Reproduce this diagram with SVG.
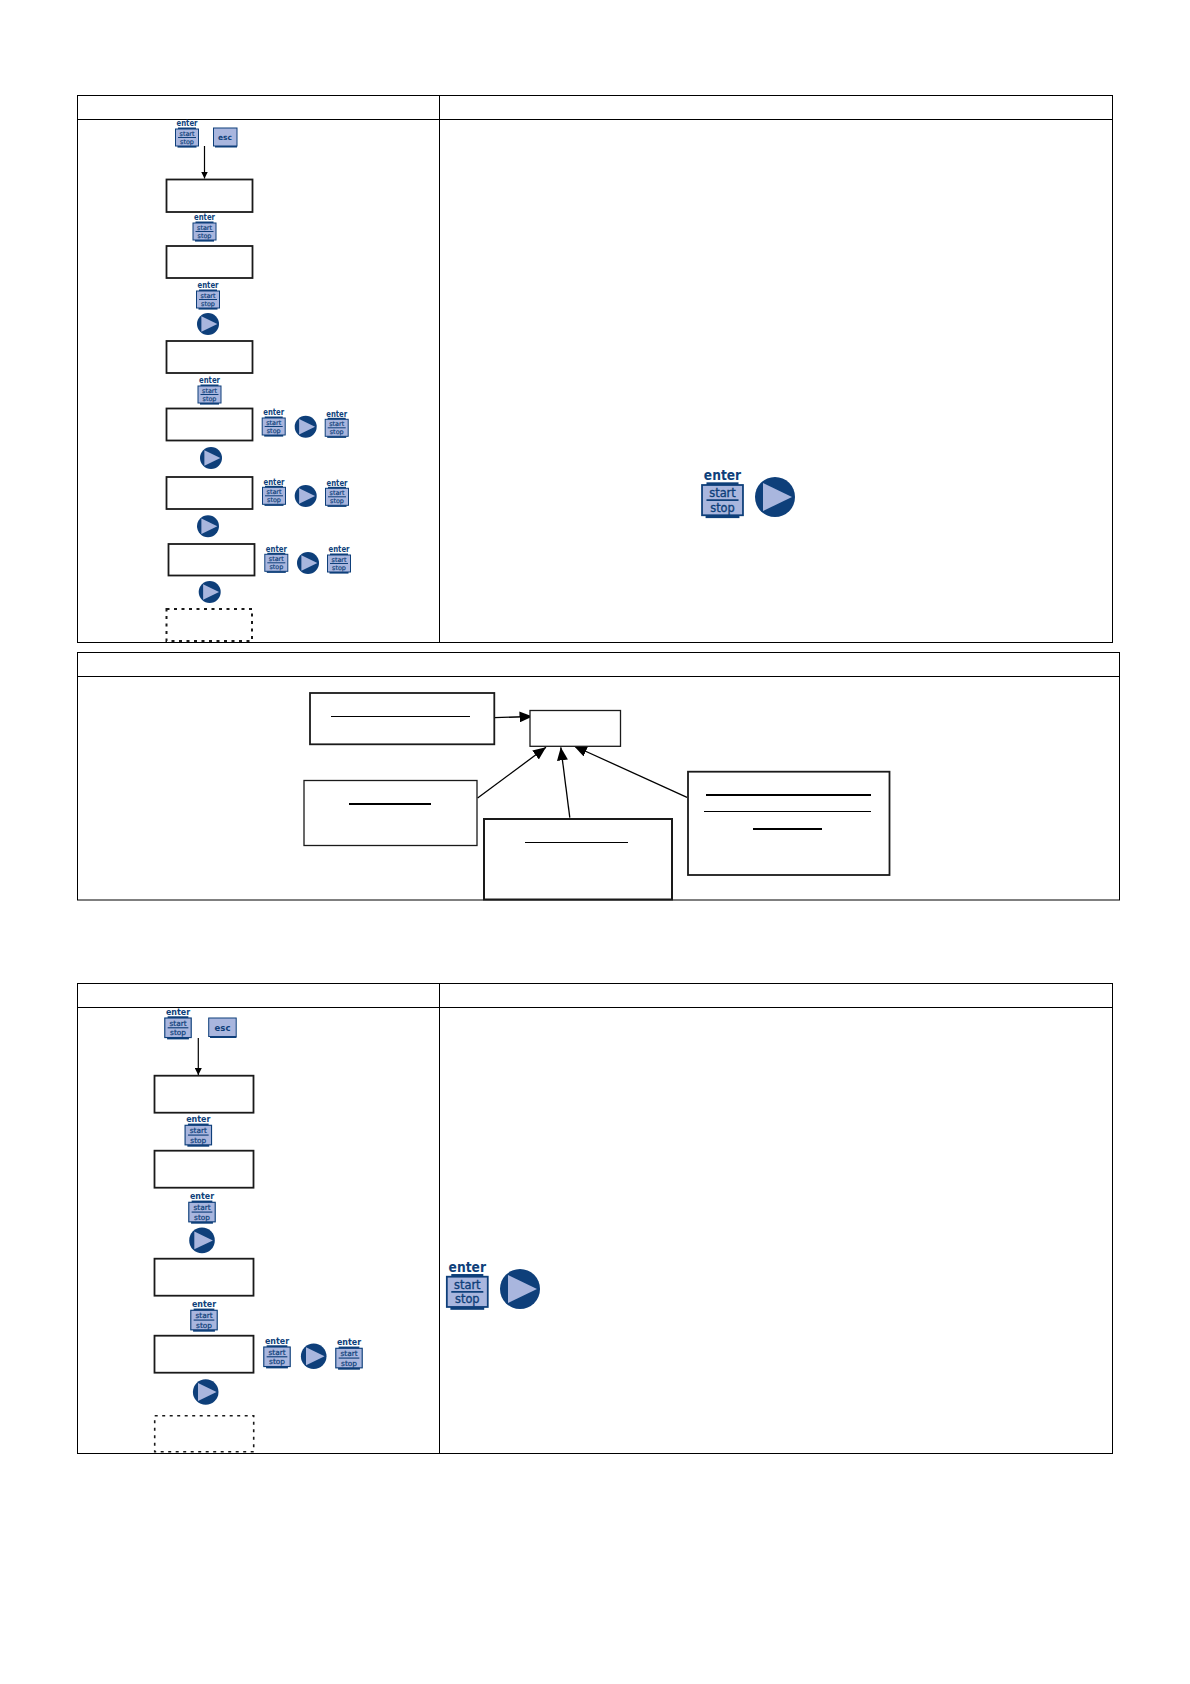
<svg xmlns="http://www.w3.org/2000/svg" width="1190" height="1684" viewBox="0 0 1190 1684">
<defs>
<style>
.grid{fill:none;stroke:#000;stroke-width:1}
.box{fill:#fff;stroke:#1a1a1a;stroke-width:1.8}
.dash{fill:#fff;stroke:#1a1a1a;stroke-width:2;stroke-dasharray:3 4.500}
.ul{stroke:#000;fill:none}
.con{stroke:#000;stroke-width:1.300;fill:none;marker-end:url(#arrow)}
.con2{stroke:#000;stroke-width:1.200;fill:none;marker-end:url(#arrow-small)}
.key{fill:#a9b6de;stroke:#0e3f7a;stroke-width:1}
.band{fill:#0e3f7a}
.rule{stroke:#0e3f7a;stroke-width:1}
.play{fill:#a9b6de}
text{font-family:"DejaVu Sans",sans-serif;font-weight:bold;fill:#0e3f7a;text-anchor:middle}
.en{font-size:8px}
.ss{font-size:6.400px;font-weight:normal;stroke:#0e3f7a;stroke-width:.2}
</style>
<marker id="arrow" viewBox="0 0 13 11" refX="13" refY="5.500" markerWidth="13" markerHeight="11" markerUnits="userSpaceOnUse" orient="auto"><path d="M0 0L13 5.500L0 11Z" fill="#000"/></marker>
<marker id="arrow-small" viewBox="0 0 7 7" refX="7" refY="3.500" markerWidth="7" markerHeight="7" markerUnits="userSpaceOnUse" orient="auto"><path d="M0 0L7 3.500L0 7Z" fill="#000"/></marker>
<g id="keyshape"><rect class="key" x="-11.5" y="0" width="23" height="17"/><rect class="band" x="-9" y="-1.5" width="18" height="1.5"/><rect class="band" x="-9.5" y="17" width="19" height="1.6"/><line class="rule" x1="-9" y1="8.5" x2="9" y2="8.5"/></g>
<g id="playshape"><circle r="20" fill="#0e3f7a"/><polygon class="play" points="-12,-14 17,0 -12,14"/></g>
</defs>
<rect width="1190" height="1684" fill="#fff"/>

<g id="table-1"><rect class="grid" x="77.5" y="95.5" width="1035" height="547"/><line class="grid" x1="77" y1="119.5" x2="1113" y2="119.5"/><line class="grid" x1="439.5" y1="95" x2="439.5" y2="643"/></g>
<g id="table-2"><rect class="grid" x="77.5" y="652.5" width="1042" height="247.500"/><line class="grid" x1="77" y1="676.500" x2="1120" y2="676.500"/></g>
<g id="table-3"><rect class="grid" x="77.5" y="983.5" width="1035" height="470"/><line class="grid" x1="77" y1="1007.500" x2="1113" y2="1007.500"/><line class="grid" x1="439.5" y1="983" x2="439.5" y2="1454"/></g>

<g id="connectors">
<line class="con2" x1="204.500" y1="146" x2="204.500" y2="178.500"/>
<line class="con" x1="494.300" y1="717.700" x2="532.500" y2="716.500"/>
<line class="con" x1="477.600" y1="798" x2="546" y2="747.300"/>
<line class="con" x1="569.800" y1="817.700" x2="560.800" y2="747.300"/>
<line class="con" x1="687" y1="797.300" x2="574" y2="746"/>
<line class="con2" x1="198.300" y1="1038" x2="198.300" y2="1075"/>
</g>

<g id="s1-box1"><rect class="box" x="166.500" y="179.500" width="86" height="32.500"/></g>
<g id="s1-box2"><rect class="box" x="166.500" y="246" width="86" height="32"/></g>
<g id="s1-box3"><rect class="box" x="166.500" y="341" width="86" height="32"/></g>
<g id="s1-box4"><rect class="box" x="166.500" y="408.500" width="86" height="32"/></g>
<g id="s1-box5"><rect class="box" x="166.500" y="477" width="86" height="32"/></g>
<g id="s1-box6"><rect class="box" x="168.500" y="544" width="86" height="31.500"/></g>
<g id="s1-box7"><rect class="dash" x="166.500" y="609" width="85.500" height="32"/></g>

<g id="s2-center"><rect class="box" style="stroke-width:1.300" x="530" y="710.500" width="90.500" height="35.800"/></g>
<g id="s2-a"><rect class="box" x="310" y="693" width="184.300" height="51.300"/><line class="ul" x1="331" y1="716.500" x2="470" y2="716.500"/></g>
<g id="s2-b"><rect class="box" style="stroke-width:1.300" x="304" y="780.500" width="173" height="65"/><line class="ul" stroke-width="2" x1="349" y1="804" x2="431" y2="804"/></g>
<g id="s2-c"><rect class="box" style="stroke-width:2" x="484" y="819" width="188" height="80.500"/><line class="ul" x1="525" y1="842.500" x2="628" y2="842.500"/></g>
<g id="s2-d"><rect class="box" x="688" y="771.700" width="201.500" height="103.300"/><line class="ul" stroke-width="2" x1="706" y1="795" x2="871" y2="795"/><line class="ul" x1="704" y1="811.500" x2="871" y2="811.500"/><line class="ul" stroke-width="2" x1="753" y1="829" x2="822" y2="829"/></g>

<g id="s3-box1"><rect class="box" x="154.500" y="1075.700" width="99" height="37"/></g>
<g id="s3-box2"><rect class="box" x="154.500" y="1150.700" width="99" height="37"/></g>
<g id="s3-box3"><rect class="box" x="154.500" y="1258.700" width="99" height="37"/></g>
<g id="s3-box4"><rect class="box" x="154.500" y="1335.700" width="99" height="37"/></g>
<g id="s3-box5"><rect class="dash" style="stroke-width:1.600" x="154.700" y="1415.700" width="99" height="36"/></g>

<g id="s1-key1" transform="translate(187,129)"><use href="#keyshape"/><text class="en" y="-2.700" textLength="21" lengthAdjust="spacingAndGlyphs">enter</text><text class="ss" y="7">start</text><text class="ss" y="15">stop</text></g>
<g id="s1-esc"><rect class="key" x="213.500" y="128" width="23.500" height="18"/><rect class="band" x="215" y="146" width="22" height="1.500"/><text x="225" y="140" font-size="7.500">esc</text></g>
<g id="s1-key2" transform="translate(204.500,223)"><use href="#keyshape"/><text class="en" y="-2.700" textLength="21" lengthAdjust="spacingAndGlyphs">enter</text><text class="ss" y="7">start</text><text class="ss" y="15">stop</text></g>
<g id="s1-key3" transform="translate(208,291)"><use href="#keyshape"/><text class="en" y="-2.700" textLength="21" lengthAdjust="spacingAndGlyphs">enter</text><text class="ss" y="7">start</text><text class="ss" y="15">stop</text></g>
<g id="s1-play1" transform="translate(208,324) scale(.55)"><use href="#playshape"/></g>
<g id="s1-key4" transform="translate(209.500,386)"><use href="#keyshape"/><text class="en" y="-2.700" textLength="21" lengthAdjust="spacingAndGlyphs">enter</text><text class="ss" y="7">start</text><text class="ss" y="15">stop</text></g>
<g id="s1-key5" transform="translate(273.700,418)"><use href="#keyshape"/><text class="en" y="-2.700" textLength="21" lengthAdjust="spacingAndGlyphs">enter</text><text class="ss" y="7">start</text><text class="ss" y="15">stop</text></g>
<g id="s1-play2" transform="translate(305.700,426.700) scale(.55)"><use href="#playshape"/></g>
<g id="s1-key6" transform="translate(336.700,419.300)"><use href="#keyshape"/><text class="en" y="-2.700" textLength="21" lengthAdjust="spacingAndGlyphs">enter</text><text class="ss" y="7">start</text><text class="ss" y="15">stop</text></g>
<g id="s1-play3" transform="translate(211,458) scale(.55)"><use href="#playshape"/></g>
<g id="s1-key7" transform="translate(274,487.300)"><use href="#keyshape"/><text class="en" y="-2.700" textLength="21" lengthAdjust="spacingAndGlyphs">enter</text><text class="ss" y="7">start</text><text class="ss" y="15">stop</text></g>
<g id="s1-play4" transform="translate(305.700,496) scale(.55)"><use href="#playshape"/></g>
<g id="s1-key8" transform="translate(337,488.300)"><use href="#keyshape"/><text class="en" y="-2.700" textLength="21" lengthAdjust="spacingAndGlyphs">enter</text><text class="ss" y="7">start</text><text class="ss" y="15">stop</text></g>
<g id="s1-play5" transform="translate(208,526.300) scale(.55)"><use href="#playshape"/></g>
<g id="s1-key9" transform="translate(276.300,554.300)"><use href="#keyshape"/><text class="en" y="-2.700" textLength="21" lengthAdjust="spacingAndGlyphs">enter</text><text class="ss" y="7">start</text><text class="ss" y="15">stop</text></g>
<g id="s1-play6" transform="translate(308,563) scale(.55)"><use href="#playshape"/></g>
<g id="s1-key10" transform="translate(339,555)"><use href="#keyshape"/><text class="en" y="-2.700" textLength="21" lengthAdjust="spacingAndGlyphs">enter</text><text class="ss" y="7">start</text><text class="ss" y="15">stop</text></g>
<g id="s1-play7" transform="translate(209.700,592) scale(.55)"><use href="#playshape"/></g>
<g id="s1-legend-key" transform="translate(722.500,485) scale(1.780)"><use href="#keyshape"/><text class="en" y="-2.700" textLength="21" lengthAdjust="spacingAndGlyphs">enter</text><text class="ss" y="7">start</text><text class="ss" y="15">stop</text></g>
<g id="s1-legend-play" transform="translate(775,497)"><use href="#playshape"/></g>

<g id="s3-key1" transform="translate(178,1018) scale(1.150)"><use href="#keyshape"/><text class="en" y="-2.700" textLength="21" lengthAdjust="spacingAndGlyphs">enter</text><text class="ss" y="7">start</text><text class="ss" y="15">stop</text></g>
<g id="s3-esc"><rect class="key" x="208.700" y="1018" width="27.500" height="18.500"/><rect class="band" x="210" y="1036.500" width="26.500" height="1.500"/><text x="222.500" y="1031" font-size="8.500">esc</text></g>
<g id="s3-key2" transform="translate(198.300,1125.300) scale(1.150)"><use href="#keyshape"/><text class="en" y="-2.700" textLength="21" lengthAdjust="spacingAndGlyphs">enter</text><text class="ss" y="7">start</text><text class="ss" y="15">stop</text></g>
<g id="s3-key3" transform="translate(202,1202.300) scale(1.150)"><use href="#keyshape"/><text class="en" y="-2.700" textLength="21" lengthAdjust="spacingAndGlyphs">enter</text><text class="ss" y="7">start</text><text class="ss" y="15">stop</text></g>
<g id="s3-play1" transform="translate(202,1240.400) scale(.64)"><use href="#playshape"/></g>
<g id="s3-key4" transform="translate(204,1310.300) scale(1.150)"><use href="#keyshape"/><text class="en" y="-2.700" textLength="21" lengthAdjust="spacingAndGlyphs">enter</text><text class="ss" y="7">start</text><text class="ss" y="15">stop</text></g>
<g id="s3-key5" transform="translate(277,1347) scale(1.150)"><use href="#keyshape"/><text class="en" y="-2.700" textLength="21" lengthAdjust="spacingAndGlyphs">enter</text><text class="ss" y="7">start</text><text class="ss" y="15">stop</text></g>
<g id="s3-play2" transform="translate(313.700,1356.300) scale(.64)"><use href="#playshape"/></g>
<g id="s3-key6" transform="translate(349,1348.300) scale(1.150)"><use href="#keyshape"/><text class="en" y="-2.700" textLength="21" lengthAdjust="spacingAndGlyphs">enter</text><text class="ss" y="7">start</text><text class="ss" y="15">stop</text></g>
<g id="s3-play3" transform="translate(205.700,1392) scale(.64)"><use href="#playshape"/></g>
<g id="s3-legend-key" transform="translate(467.300,1276.700) scale(1.780)"><use href="#keyshape"/><text class="en" y="-2.700" textLength="21" lengthAdjust="spacingAndGlyphs">enter</text><text class="ss" y="7">start</text><text class="ss" y="15">stop</text></g>
<g id="s3-legend-play" transform="translate(520,1289)"><use href="#playshape"/></g>
</svg>
